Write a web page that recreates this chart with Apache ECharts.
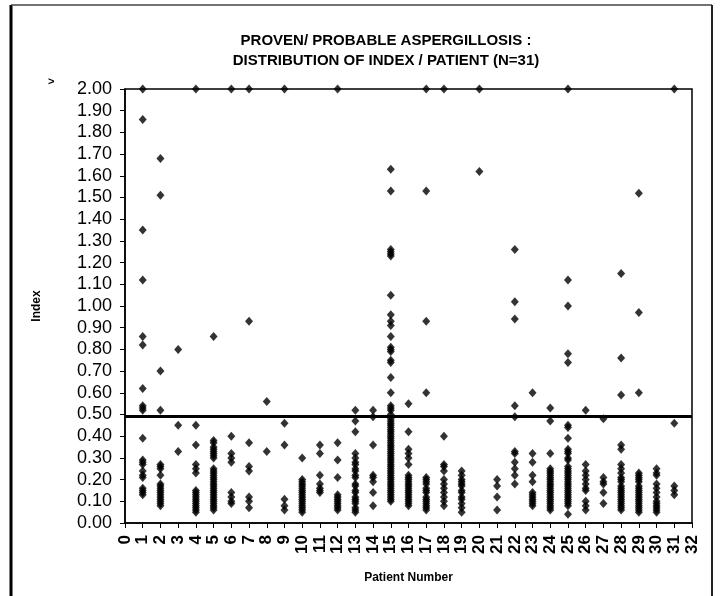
<!DOCTYPE html>
<html>
<head>
<meta charset="utf-8">
<script src="https://cdn.jsdelivr.net/npm/echarts@6/dist/echarts.min.js"></script>
<style>html,body{margin:0;padding:0;background:#fff}#c{width:728px;height:596px}</style>
</head>
<body>
<div id="c"></div>
<script>
// Index values read per patient (2.00 stands for "> 2.00")
const p1 = [2.00, 1.86, 1.35, 1.12, 0.86, 0.82, 0.62, 0.54, 0.53, 0.52, 0.39, 0.29, 0.28, 0.27, 0.24, 0.22, 0.21, 0.16, 0.15, 0.14, 0.13];
const p2 = [1.68, 1.51, 0.70, 0.52, 0.27, 0.26, 0.25, 0.22, 0.18, 0.17, 0.16, 0.15, 0.14, 0.13, 0.12, 0.11, 0.10, 0.09, 0.08];
const p3 = [0.80, 0.45, 0.33];
const p4 = [2.00, 0.45, 0.36, 0.27, 0.25, 0.23, 0.15, 0.14, 0.13, 0.12, 0.11, 0.10, 0.09, 0.08, 0.07, 0.06, 0.05];
const p5 = [0.86, 0.38, 0.37, 0.35, 0.34, 0.33, 0.32, 0.31, 0.30, 0.25, 0.24, 0.23, 0.22, 0.21, 0.20, 0.19, 0.18, 0.17, 0.16, 0.15, 0.14, 0.13, 0.12, 0.11, 0.10, 0.09, 0.08, 0.07, 0.06];
const p6 = [2.00, 0.40, 0.32, 0.30, 0.28, 0.14, 0.12, 0.10, 0.09];
const p7 = [2.00, 0.93, 0.37, 0.26, 0.24, 0.12, 0.10, 0.07];
const p8 = [0.56, 0.33];
const p9 = [2.00, 0.46, 0.36, 0.11, 0.08, 0.06];
const p10 = [0.30, 0.20, 0.19, 0.18, 0.17, 0.16, 0.15, 0.14, 0.13, 0.12, 0.11, 0.10, 0.09, 0.08, 0.07, 0.06, 0.05];
const p11 = [0.36, 0.32, 0.22, 0.18, 0.16, 0.15, 0.14];
const p12 = [2.00, 0.37, 0.29, 0.21, 0.13, 0.12, 0.11, 0.10, 0.09, 0.08, 0.07, 0.06];
const p13 = [0.52, 0.47, 0.42, 0.32, 0.30, 0.28, 0.27, 0.25, 0.24, 0.22, 0.21, 0.18, 0.17, 0.15, 0.14, 0.12, 0.11, 0.10, 0.09, 0.07, 0.06, 0.05];
const p14 = [0.52, 0.49, 0.36, 0.22, 0.21, 0.19, 0.14, 0.08];
const p15 = [1.63, 1.53, 1.26, 1.25, 1.24, 1.23, 1.05, 0.96, 0.93, 0.91, 0.86, 0.81, 0.80, 0.79, 0.75, 0.74, 0.67, 0.60, 0.54, 0.53, 0.52, 0.50, 0.48, 0.47, 0.46, 0.45, 0.44, 0.43, 0.42, 0.41, 0.40, 0.39, 0.38, 0.37, 0.36, 0.35, 0.34, 0.33, 0.32, 0.31, 0.30, 0.29, 0.28, 0.27, 0.26, 0.25, 0.24, 0.23, 0.22, 0.21, 0.20, 0.19, 0.18, 0.17, 0.16, 0.15, 0.14, 0.13, 0.12, 0.11, 0.10];
const p16 = [0.55, 0.42, 0.34, 0.32, 0.30, 0.27, 0.22, 0.21, 0.20, 0.19, 0.18, 0.17, 0.16, 0.15, 0.14, 0.13, 0.12, 0.11, 0.10, 0.09, 0.08];
const p17 = [2.00, 1.53, 0.93, 0.60, 0.21, 0.20, 0.19, 0.18, 0.16, 0.15, 0.14, 0.12, 0.11, 0.10, 0.09, 0.08, 0.07, 0.06];
const p18 = [2.00, 0.40, 0.27, 0.26, 0.24, 0.20, 0.18, 0.16, 0.14, 0.12, 0.10, 0.08];
const p19 = [0.24, 0.22, 0.20, 0.19, 0.18, 0.17, 0.15, 0.14, 0.12, 0.11, 0.09, 0.07, 0.05];
const p20 = [2.00, 1.62];
const p21 = [0.20, 0.17, 0.12, 0.06];
const p22 = [1.26, 1.02, 0.94, 0.54, 0.49, 0.33, 0.32, 0.28, 0.25, 0.22, 0.18];
const p23 = [0.60, 0.32, 0.28, 0.22, 0.19, 0.14, 0.13, 0.12, 0.11, 0.10, 0.09, 0.08];
const p24 = [0.53, 0.47, 0.32, 0.25, 0.24, 0.23, 0.22, 0.21, 0.20, 0.19, 0.18, 0.17, 0.16, 0.15, 0.14, 0.13, 0.12, 0.11, 0.10, 0.09, 0.08, 0.07, 0.06];
const p25 = [2.00, 1.12, 1.00, 0.78, 0.74, 0.45, 0.44, 0.39, 0.34, 0.33, 0.32, 0.30, 0.29, 0.26, 0.25, 0.24, 0.23, 0.22, 0.21, 0.20, 0.19, 0.18, 0.17, 0.16, 0.15, 0.14, 0.13, 0.12, 0.11, 0.10, 0.09, 0.08, 0.04];
const p26 = [0.52, 0.27, 0.24, 0.22, 0.20, 0.18, 0.16, 0.15, 0.10, 0.08, 0.06];
const p27 = [0.48, 0.21, 0.19, 0.18, 0.14, 0.09];
const p28 = [1.15, 0.76, 0.59, 0.36, 0.34, 0.27, 0.25, 0.23, 0.21, 0.20, 0.19, 0.17, 0.16, 0.15, 0.14, 0.13, 0.12, 0.11, 0.10, 0.09, 0.08, 0.07, 0.06];
const p29 = [1.52, 0.97, 0.60, 0.23, 0.22, 0.21, 0.20, 0.19, 0.17, 0.16, 0.15, 0.14, 0.13, 0.12, 0.11, 0.10, 0.09, 0.08, 0.07, 0.06, 0.05];
const p30 = [0.25, 0.23, 0.22, 0.18, 0.16, 0.14, 0.12, 0.10, 0.09, 0.08, 0.07, 0.06, 0.05];
const p31 = [2.00, 0.46, 0.17, 0.15, 0.13];
const patientNumbers = [1,2,3,4,5,6,7,8,9,10,11,12,13,14,15,16,17,18,19,20,21,22,23,24,25,26,27,28,29,30,31];
const patientValues = [p1,p2,p3,p4,p5,p6,p7,p8,p9,p10,p11,p12,p13,p14,p15,p16,p17,p18,p19,p20,p21,p22,p23,p24,p25,p26,p27,p28,p29,p30,p31];
const cutoff = 0.49;
const titleLines = ['PROVEN/ PROBABLE ASPERGILLOSIS :', 'DISTRIBUTION OF INDEX / PATIENT (N=31)'];

const points = [];
patientNumbers.forEach((n, i) => patientValues[i].forEach(v => points.push([n, v])));

const FONT = 'Liberation Sans, Arial, sans-serif';
const chart = echarts.init(document.getElementById('c'));
chart.setOption({
  animation: false,
  backgroundColor: '#fff',
  title: {
    text: titleLines.join('\n'),
    left: 381, top: 26, textAlign: 'center',
    textStyle: {fontFamily: FONT, fontSize: 15, fontWeight: 'bold', color: '#000', lineHeight: 20}
  },
  grid: {left: 125, right: 36, top: 89, bottom: 73, show: true, borderColor: '#000', borderWidth: 1.5, backgroundColor: '#fff'},
  xAxis: {
    type: 'value', min: 0, max: 32, interval: 1,
    name: 'Patient Number', nameLocation: 'middle', nameGap: 49,
    nameTextStyle: {fontFamily: FONT, fontSize: 12, fontWeight: 'bold', color: '#000'},
    axisLine: {lineStyle: {color: '#000', width: 1.5}},
    axisTick: {length: 5, lineStyle: {color: '#000'}},
    axisLabel: {rotate: 90, margin: 12, fontFamily: FONT, fontSize: 17, fontWeight: 'bold', color: '#000'},
    splitLine: {show: false}
  },
  yAxis: {
    type: 'value', min: 0, max: 2, interval: 0.1,
    name: 'Index', nameLocation: 'middle', nameRotate: 90, nameGap: 82,
    nameTextStyle: {fontFamily: FONT, fontSize: 12, fontWeight: 'bold', color: '#000'},
    axisLine: {show: true, lineStyle: {color: '#000', width: 1.5}},
    axisTick: {show: true, length: 5, lineStyle: {color: '#000'}},
    axisLabel: {margin: 13, fontFamily: FONT, fontSize: 18, color: '#000', formatter: v => v.toFixed(2)},
    splitLine: {show: false}
  },
  series: [{
    type: 'scatter',
    data: points,
    symbol: 'diamond',
    symbolSize: [8, 9],
    itemStyle: {color: '#000'},
    clip: false,
    markLine: {
      silent: true, symbol: 'none',
      label: {show: false},
      lineStyle: {color: '#000', width: 3, type: 'solid'},
      data: [{yAxis: cutoff}]
    }
  }],
  graphic: [
    {type: 'text', left: 48, top: 76, style: {text: '>', font: 'bold 11px ' + FONT, fill: '#000'}},
    {type: 'line', shape: {x1: 11, y1: 5, x2: 11, y2: 596}, style: {stroke: '#000', lineWidth: 3}},
    {type: 'line', shape: {x1: 11, y1: 5, x2: 712, y2: 5}, style: {stroke: '#444', lineWidth: 1.5}},
    {type: 'line', shape: {x1: 712, y1: 5, x2: 712, y2: 596}, style: {stroke: '#222', lineWidth: 2}}
  ]
});
</script>
</body>
</html>
